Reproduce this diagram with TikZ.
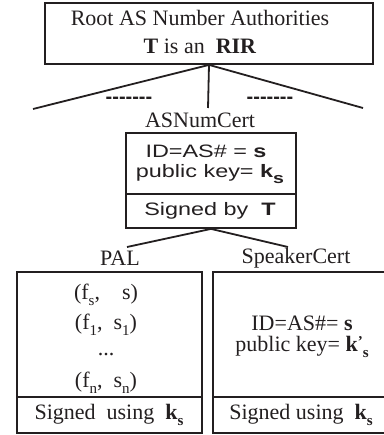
\documentclass[tikz,border=0pt]{standalone}
\usepackage{fontspec}
\setmainfont{Liberation Serif}
\setsansfont{Liberation Sans}
\newfontfamily\wideSans{Liberation Sans}[FakeStretch=1.3]
\newcommand{\dashRow}{-\kern0pt-\kern0pt-\kern0pt-\kern0pt-\kern0pt-\kern0pt-}
\newcommand{\lowSub}[1]{\raisebox{-5.5pt}{\fontsize{15}{15}\selectfont #1}}
\newcommand{\keyPrime}{\textbf{k}\raisebox{5pt}{\fontsize{15}{15}\selectfont\textbf{'}}\lowSub{\textbf{s}}}
\begin{document}
\begin{tikzpicture}[x=1pt, y=-1pt]
    \definecolor{lineColour}{HTML}{231F20}
    \tikzset{
        box/.style={draw=lineColour, line width=1.8pt, inner sep=0pt},
        link/.style={draw=lineColour, line width=1.8pt},
        txt/.style={inner sep=0pt, text=lineColour, font=\fontsize{22}{26}\selectfont},
        sansTxt/.style={inner sep=0pt, text=lineColour, font=\wideSans\fontsize{18}{22}\selectfont}
    }
    \useasboundingbox (0,0) rectangle (383,435);

    % Root box
    \node[box, minimum width=328pt, minimum height=61pt] (rootBox) at (209,33.5) {};
    \node[txt] (rootTitle) at (200,18) {Root AS Number Authorities};
    \node[txt] (rootRir) at (200,46) {\textbf{T} is an \ \textbf{RIR}};

    % Branches below the root
    \coordinate (branchLeft) at (33,109);
    \coordinate (branchMid) at (208,108);
    \coordinate (branchRight) at (363,108);
    \draw[link] (branchLeft) -- (rootBox.south) -- (branchRight);
    \draw[link] (rootBox.south) -- (branchMid);
    \node[txt, font=\sffamily\bfseries\fontsize{20}{24}\selectfont] (dashLeft) at (129,100) {\dashRow};
    \node[txt, font=\sffamily\bfseries\fontsize{20}{24}\selectfont] (dashRight) at (270,100) {\dashRow};

    % ASNumCert
    \node[txt] (certLabel) at (200,120) {ASNumCert};
    \node[box, minimum width=170pt, minimum height=61pt] (certBody) at (211,163.5) {};
    \node[box, minimum width=170pt, minimum height=34pt] (certSign) at (211,211) {};
    \node[sansTxt] (certId) at (206,151) {ID=AS\# = \textbf{s}};
    \node[sansTxt] (certKey) at (210,174) {public key= \textbf{k}\lowSub{\textbf{s}}};
    \node[sansTxt] (certSigner) at (210,211) {Signed by \ \textbf{T}};

    % Branches to PAL and SpeakerCert
    \coordinate (palEnd) at (127,247);
    \coordinate (spkEnd) at (288,247);
    \draw[link] (palEnd) -- (certSign.south) -- (spkEnd);
    \node[txt] (palLabel) at (120,258) {PAL};
    \node[txt] (spkLabel) at (296,258) {SpeakerCert};

    % PAL box
    \node[box, minimum width=185pt, minimum height=125pt] (palBody) at (109.5,334.5) {};
    \node[box, minimum width=185pt, minimum height=36pt] (palSign) at (109.5,415) {};
    \node[txt] (palSelf) at (106,295) {(f\lowSub{s},\quad s)};
    \node[txt] (palFirst) at (106,325) {(f\lowSub{1}, \ s\lowSub{1})};
    \node[txt] (palDots) at (106,355) {...};
    \node[txt] (palLast) at (106,383) {(f\lowSub{n}, \ s\lowSub{n})};
    \node[txt] (palSigner) at (109,415) {Signed \ using \ \textbf{k}\lowSub{\textbf{s}}};

    % SpeakerCert box
    \node[box, minimum width=180pt, minimum height=125pt] (spkBody) at (303,334.5) {};
    \node[box, minimum width=180pt, minimum height=36pt] (spkSign) at (303,415) {};
    \node[txt] (spkId) at (302,323) {ID=AS\#= \textbf{s}};
    \node[txt] (spkKey) at (302,347) {public key= \keyPrime};
    \node[txt] (spkSigner) at (301,415) {Signed using \ \textbf{k}\lowSub{\textbf{s}}};
\end{tikzpicture}
\end{document}
